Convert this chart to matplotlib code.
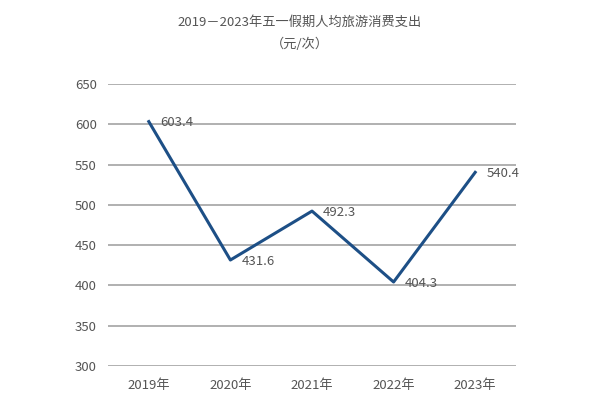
import matplotlib
matplotlib.use("Agg")
import matplotlib.pyplot as plt

plt.rcParams['font.family'] = ['Noto Sans CJK SC', 'DejaVu Sans']

## Data
years = ["2019年", "2020年", "2021年", "2022年", "2023年"]
spend = [603.4, 431.6, 492.3, 404.3, 540.4]
yticks = [300, 350, 400, 450, 500, 550, 600, 650]

fig = plt.figure(figsize=(6, 4.04), dpi=100)
ax = fig.add_axes([0.18, 0.094, 0.68, 0.698])

x = range(len(years))
ax.plot(x, spend, color="#1d4f86", linewidth=2.2)
for i, v in zip(x, spend):
    ax.annotate(f"{v:.1f}", (i, v), xytext=(8, -1), textcoords="offset points",
                ha="left", va="center", fontsize=9.5, color="#555555")

ax.set_xlim(-0.5, len(years) - 0.5)
ax.set_ylim(300, 650)
ax.set_yticks(yticks)
ax.set_xticks(list(x))
ax.set_xticklabels(years)
ax.grid(axis="y", color="#b0b0b0", linewidth=1.4)
ax.set_axisbelow(True)
for s in ax.spines.values():
    s.set_visible(False)
ax.tick_params(length=0, labelsize=9.5, colors="#555555", pad=8)
ax.tick_params(axis="x", pad=9)

fig.text(0.5, 0.945, "2019－2023年五一假期人均旅游消费支出", ha="center", va="center",
         fontsize=9.5, color="#555555")
fig.text(0.5, 0.89, "（元/次）", ha="center", va="center", fontsize=9.5, color="#555555")

fig.savefig("out.png", dpi=100)
